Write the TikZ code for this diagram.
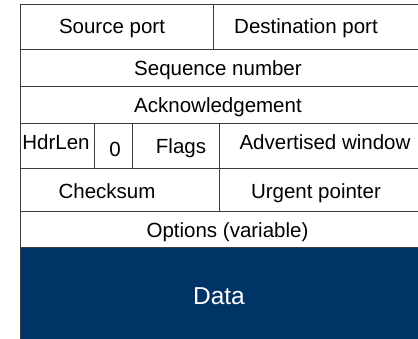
\documentclass[tikz,border=0pt]{standalone}
\usepackage{fontspec}
\setmainfont{Liberation Sans}
\definecolor{datablue}{RGB}{0,52,102}
\definecolor{linegray}{RGB}{60,60,60}
\begin{document}
\begin{tikzpicture}[x=1pt,y=-1pt,
  lbl/.style={anchor=base,inner sep=0pt,font=\fontsize{20.5}{24}\selectfont},
  datalbl/.style={anchor=base,inner sep=0pt,text=white,font=\fontsize{24.5}{28}\selectfont},
  grid/.style={draw=linegray,line width=1pt}]
\useasboundingbox (0,0) rectangle (418,339);
\fill[datablue] (20,248) rectangle (420,341);
% horizontal lines
\draw[grid] (20,5) -- (420,5);
\draw[grid] (20,49.5) -- (420,49.5);
\draw[grid] (20,87) -- (420,87);
\draw[grid] (20,124) -- (420,124);
\draw[grid] (20,169) -- (420,169);
\draw[grid] (20,211.5) -- (420,211.5);
\draw[grid] (20,248) -- (420,248);
% left border
\draw[grid] (20,5) -- (20,341);
% vertical dividers
\draw[grid] (213,5) -- (213,49.5);
\draw[grid] (94,124) -- (94,169);
\draw[grid] (132.5,124) -- (132.5,169);
\draw[grid] (219,124) -- (219,211.5);
% labels
\node[lbl] (src) at (112,34) {Source port};
\node[lbl] (dst) at (306,34) {Destination port};
\node[lbl] (seq) at (218,76) {Sequence number};
\node[lbl] (ack) at (218,113) {Acknowledgement};
\node[lbl] (hdr) at (56,150) {HdrLen};
\node[lbl] (zero) at (115,157) {0};
\node[lbl] (flags) at (181,154) {Flags};
\node[lbl] (adv) at (325,150) {Advertised window};
\node[lbl] (chk) at (107,199) {Checksum};
\node[lbl] (urg) at (316,199) {Urgent pointer};
\node[lbl] (opt) at (227.5,238) {Options (variable)};
\node[datalbl] (data) at (219,305) {Data};
\end{tikzpicture}
\end{document}
